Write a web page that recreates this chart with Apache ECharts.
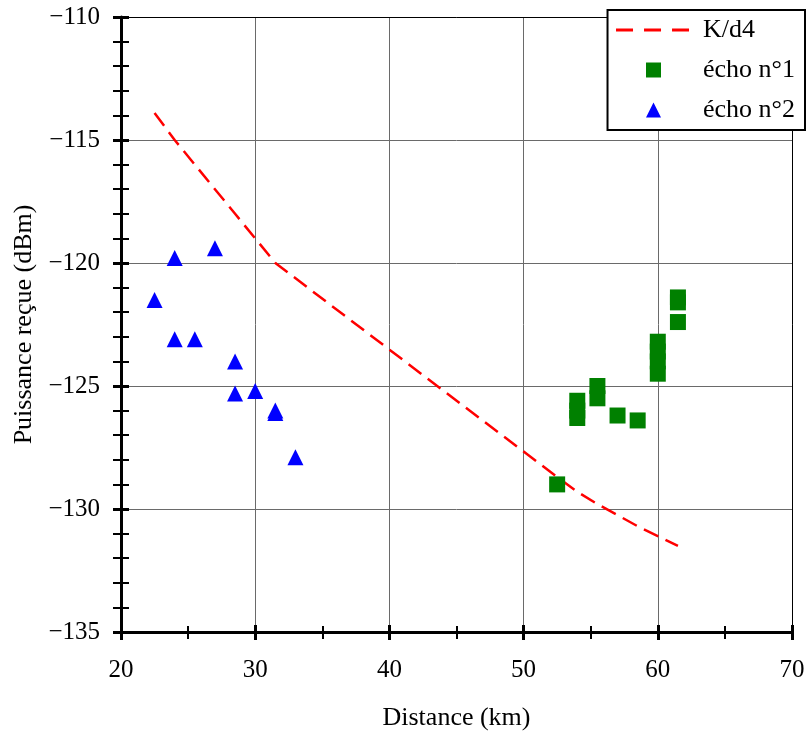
<!DOCTYPE html>
<html>
<head>
<meta charset="utf-8">
<script src="https://cdn.jsdelivr.net/npm/echarts@6/dist/echarts.min.js"></script>
<style>
html,body{margin:0;padding:0;background:#fff;}
#main{width:810px;height:735px;}
</style>
</head>
<body>
<div id="main"></div>
<script>
// K/d4 reference curve
const kd4X = [22.5, 24, 25.5, 27, 28.5, 30, 31.5, 52.5, 54, 55.5, 57, 58.5, 60, 61.5];
const kd4Y = [-113.9, -115, -116, -117, -118, -119, -120, -128.7, -129.3, -129.8, -130.25, -130.7, -131.1, -131.5];
// écho n°1
const echo1X = [52.5, 54, 54, 54, 55.5, 55.5, 57, 58.5, 60, 60, 60, 60, 61.5, 61.5, 61.5];
const echo1Y = [-129, -125.6, -126.0, -126.3, -125.0, -125.5, -126.2, -126.4, -123.2, -123.6, -124.0, -124.5, -121.4, -121.6, -122.4];
// écho n°2
const echo2X = [22.5, 24, 24, 25.5, 27, 28.5, 28.5, 30, 31.5, 31.5, 33];
const echo2Y = [-121.5, -119.8, -123.1, -123.1, -119.4, -124.0, -125.3, -125.2, -126.0, -126.1, -127.9];

const seriesNames = ['K/d4', 'écho n°1', 'écho n°2'];
const xTitle = 'Distance (km)';
const yTitle = 'Puissance reçue (dBm)';

const FONT = 'Liberation Serif';
const zip = (xs, ys) => xs.map((x, i) => [x, ys[i]]);

const xBase = {type: 'value', min: 20, max: 70, interval: 10};
const yBase = {type: 'value', min: -135, max: -110, interval: 5};

const chart = echarts.init(document.getElementById('main'), null, {renderer: 'canvas'});
chart.setOption({
  animation: false,
  backgroundColor: '#fff',
  grid: {left: 121, right: 18, top: 17, bottom: 103, containLabel: false, outerBoundsMode: 'none'},
  legend: {
    orient: 'vertical', right: 5, top: 10,
    data: [
      {name: seriesNames[0], itemStyle: {color: 'rgba(0,0,0,0)', opacity: 0, borderWidth: 0},
       lineStyle: {color: '#ff0000', width: 3, type: [17, 11]}},
      {name: seriesNames[1], icon: 'path://M0,0L1,0L1,1L0,1Z'},
      {name: seriesNames[2], icon: 'path://M0.5,0L1,1L0,1Z'}
    ],
    symbolKeepAspect: true,
    itemWidth: 75, itemHeight: 15, itemGap: 14,
    padding: [7, 10, 7, 7],
    borderColor: '#000', borderWidth: 2, backgroundColor: '#fff',
    textStyle: {fontFamily: FONT, fontSize: 26, color: '#000', padding: [0, 0, 0, 7]},
    selectedMode: false
  },
  xAxis: [
    Object.assign({}, xBase, {
      position: 'bottom',
      name: xTitle, nameLocation: 'middle', nameGap: 73,
      nameTextStyle: {fontFamily: FONT, fontSize: 26, color: '#000'},
      axisLine: {show: true, lineStyle: {color: '#000', width: 3}},
      axisTick: {show: true, length: 8, lineStyle: {color: '#000', width: 3}},
      minorTick: {show: true, splitNumber: 2, length: 7, lineStyle: {color: '#000', width: 2}},
      axisLabel: {fontFamily: FONT, fontSize: 25, color: '#000', margin: 26},
      splitLine: {show: true, lineStyle: {color: '#6a6a6a', width: 1}}
    }),
    Object.assign({}, xBase, {
      position: 'bottom',
      axisLine: {show: false},
      axisTick: {show: true, inside: true, length: 7, lineStyle: {color: '#000', width: 3}},
      minorTick: {show: true, splitNumber: 2, length: 6, lineStyle: {color: '#000', width: 2}},
      axisLabel: {show: false},
      splitLine: {show: false}
    }),
    Object.assign({}, xBase, {
      position: 'top',
      axisLine: {show: true, lineStyle: {color: '#000', width: 1}},
      axisTick: {show: false}, axisLabel: {show: false}, splitLine: {show: false}
    })
  ],
  yAxis: [
    Object.assign({}, yBase, {
      position: 'left',
      name: yTitle, nameLocation: 'middle', nameGap: 81,
      nameTextStyle: {fontFamily: FONT, fontSize: 26, color: '#000'},
      axisLine: {show: true, lineStyle: {color: '#000', width: 3}},
      axisTick: {show: true, length: 8, lineStyle: {color: '#000', width: 3}},
      minorTick: {show: true, splitNumber: 5, length: 8, lineStyle: {color: '#000', width: 2}},
      axisLabel: {fontFamily: FONT, fontSize: 25, color: '#000', margin: 21,
        formatter: v => String(v).replace('-', '\u2212')},
      splitLine: {show: true, lineStyle: {color: '#6a6a6a', width: 1}}
    }),
    Object.assign({}, yBase, {
      position: 'left',
      axisLine: {show: false},
      axisTick: {show: true, inside: true, length: 8, lineStyle: {color: '#000', width: 3}},
      minorTick: {show: true, splitNumber: 5, length: 8, lineStyle: {color: '#000', width: 2}},
      axisLabel: {show: false},
      splitLine: {show: false}
    }),
    Object.assign({}, yBase, {
      position: 'right',
      axisLine: {show: true, lineStyle: {color: '#000', width: 1}},
      axisTick: {show: false}, axisLabel: {show: false}, splitLine: {show: false}
    })
  ],
  series: [
    {
      name: seriesNames[0], type: 'line', xAxisIndex: 0, yAxisIndex: 0,
      data: zip(kd4X, kd4Y), symbol: 'none', smooth: false,
      lineStyle: {color: '#ff0000', width: 2.5, type: [16, 8]},
      itemStyle: {color: '#ff0000'}, z: 2
    },
    {
      name: seriesNames[1], type: 'scatter', xAxisIndex: 0, yAxisIndex: 0,
      data: zip(echo1X, echo1Y), symbol: 'rect', symbolSize: 16,
      itemStyle: {color: '#008000', opacity: 1}, z: 3
    },
    {
      name: seriesNames[2], type: 'scatter', xAxisIndex: 0, yAxisIndex: 0,
      data: zip(echo2X, echo2Y), symbol: 'triangle', symbolSize: 16,
      itemStyle: {color: '#0000ff', opacity: 1}, z: 3
    }
  ]
});
</script>
</body>
</html>
